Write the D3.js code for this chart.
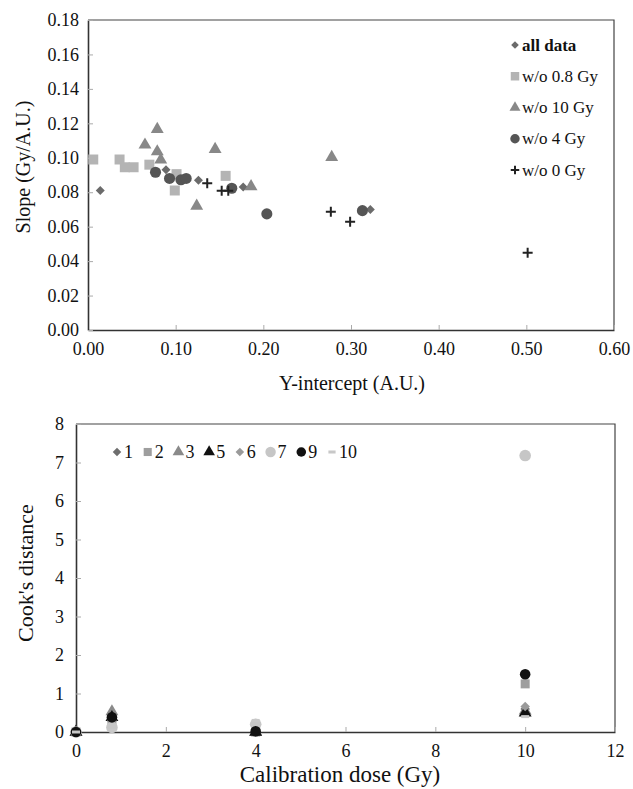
<!DOCTYPE html>
<html>
<head>
<meta charset="utf-8">
<script src="https://cdn.jsdelivr.net/npm/d3@7"></script>
<style>
  body { margin: 0; background: #fff; }
  svg text { font-family: "Liberation Serif", "DejaVu Serif", serif; fill: #111; }
</style>
</head>
<body>
<svg id="chart" width="633" height="789"></svg>
<script>
// ---- top chart: slope vs y-intercept ----
const allData   = [[0.014, 0.081], [0.089, 0.093], [0.126, 0.087], [0.177, 0.083], [0.322, 0.070]];
const wo08Gy    = [[0.006, 0.099], [0.036, 0.099], [0.042, 0.0945], [0.052, 0.0945], [0.070, 0.096],
                   [0.101, 0.0905], [0.099, 0.081], [0.157, 0.0895]];
const wo10Gy    = [[0.079, 0.1166], [0.065, 0.1075], [0.079, 0.1036], [0.083, 0.0988], [0.124, 0.072],
                   [0.145, 0.105], [0.186, 0.0833], [0.278, 0.1003]];
const wo4Gy     = [[0.077, 0.0916], [0.093, 0.088], [0.106, 0.0872], [0.112, 0.0880], [0.164, 0.0823],
                   [0.204, 0.0674], [0.313, 0.0693]];
const wo0Gy     = [[0.136, 0.0852], [0.1525, 0.0808], [0.160, 0.0808], [0.277, 0.0687], [0.299, 0.0629],
                   [0.5015, 0.0449]];
const topLegend = ["all data", "w/o 0.8 Gy", "w/o 10 Gy", "w/o 4 Gy", "w/o 0 Gy"];
const topXTicks = [0, 0.1, 0.2, 0.3, 0.4, 0.5, 0.6];
const topYTicks = [0, 0.02, 0.04, 0.06, 0.08, 0.10, 0.12, 0.14, 0.16, 0.18];

// ---- bottom chart: Cook's distance ----
const doses      = [0, 0.8, 4, 10];
const cookNames  = ["1", "2", "3", "5", "6", "7", "9", "10"];
const cook1  = [0.02, 0.28, 0.0, 0.60];
const cook2  = [0.0, 0.25, 0.0, 1.25];
const cook3  = [0.0, 0.53, 0.0, 0.55];
const cook5  = [0.0, 0.38, 0.0, 0.50];
const cook6  = [0.0, 0.30, 0.0, 0.66];
const cook7  = [0.0, 0.12, 0.20, 7.18];
const cook9  = [0.0, 0.38, 0.02, 1.50];
const cook10 = [0.0, 0.05, 0.30, 0.40];
const botXTicks = [0, 2, 4, 6, 8, 10, 12];
const botYTicks = [0, 1, 2, 3, 4, 5, 6, 7, 8];

const svg = d3.select("#chart");

// marker drawing helper
function marker(g, shape, fill, s) {
  if (shape === "diamond") {
    g.append("path").attr("d", d3.symbol(d3.symbolSquare, s * s * 0.5)())
      .attr("transform", "rotate(45)").attr("fill", fill);
  } else if (shape === "square") {
    g.append("path").attr("d", d3.symbol(d3.symbolSquare, s * s)()).attr("fill", fill);
  } else if (shape === "triangle") {
    g.append("path").attr("d", d3.symbol(d3.symbolTriangle, s * s * 0.5)()).attr("fill", fill);
  } else if (shape === "circle") {
    g.append("path").attr("d", d3.symbol(d3.symbolCircle, s * s * 0.8)()).attr("fill", fill);
  } else if (shape === "plus") {
    const h = s / 2;
    g.append("path").attr("d", `M${-h},0H${h}M0,${-h}V${h}`)
      .attr("stroke", fill).attr("stroke-width", 2).attr("fill", "none");
  } else if (shape === "dash") {
    g.append("rect").attr("x", -s / 2).attr("y", -1.5).attr("width", s).attr("height", 3).attr("fill", fill);
  }
}

function frame(x0, x1, y0, y1) {
  svg.append("path").attr("d", `M${x0},${y0}H${x1}V${y1}`)
    .attr("fill", "none").attr("stroke", "#444").attr("stroke-width", 1.2);
}

function axes(x, y, xTicks, yTicks, xFmt, yFmt, yLabelGap) {
  const [x0, x1] = x.range();
  const [yb, yt] = y.range();
  const gx = svg.append("g").attr("transform", `translate(0,${yb})`)
    .call(d3.axisBottom(x).tickValues(xTicks).tickFormat(xFmt).tickSizeInner(-5).tickSizeOuter(0).tickPadding(12));
  const gy = svg.append("g").attr("transform", `translate(${x0},0)`)
    .call(d3.axisLeft(y).tickValues(yTicks).tickFormat(yFmt).tickSizeInner(-5).tickSizeOuter(0).tickPadding(yLabelGap));
  [gx, gy].forEach(g => {
    g.select(".domain").attr("stroke", "#333").attr("stroke-width", 1.6);
    g.selectAll(".tick line").attr("stroke", "#aaa");
    g.selectAll(".tick text").attr("font-size", 18).attr("fill", "#111")
      .style("font-family", '"Liberation Serif", serif');
  });
  return [gx, gy];
}

// ================= top chart =================
const xT = d3.scaleLinear().domain([0, 0.6]).range([88, 614]);
const yT = d3.scaleLinear().domain([0, 0.18]).range([330, 20]);
frame(88, 614, 20, 330);
axes(xT, yT, topXTicks, topYTicks, d3.format(".2f"), d3.format(".2f"), 9);

const topSeries = [
  { data: allData, shape: "diamond", fill: "#6b6b6b", s: 9 },
  { data: wo08Gy,  shape: "square",  fill: "#b4b4b4", s: 10 },
  { data: wo10Gy,  shape: "triangle", fill: "#888888", s: 12 },
  { data: wo4Gy,   shape: "circle",  fill: "#555555", s: 11 },
  { data: wo0Gy,   shape: "plus",    fill: "#222222", s: 10 }
];
topSeries.forEach(sr => {
  sr.data.forEach(d => {
    const g = svg.append("g").attr("transform", `translate(${xT(d[0])},${yT(d[1])})`);
    marker(g, sr.shape, sr.fill, sr.s);
  });
});

// top legend
const legY = d3.scalePoint().domain(topLegend).range([45, 170]);
topSeries.forEach((sr, i) => {
  const g = svg.append("g").attr("transform", `translate(515,${legY(topLegend[i])})`);
  marker(g, sr.shape, sr.fill, sr.s * 0.85);
  svg.append("text").attr("x", 522).attr("y", legY(topLegend[i]) + 5.5)
    .attr("font-size", 17).attr("font-weight", i === 0 ? "bold" : "normal")
    .text(topLegend[i]);
});

svg.append("text").attr("transform", "translate(30,167) rotate(-90)")
  .attr("text-anchor", "middle").attr("font-size", 20).text("Slope (Gy/A.U.)");
svg.append("text").attr("x", 352).attr("y", 390)
  .attr("text-anchor", "middle").attr("font-size", 20).text("Y-intercept (A.U.)");

// ================= bottom chart =================
const xB = d3.scaleLinear().domain([0, 12]).range([76, 615]);
const yB = d3.scaleLinear().domain([0, 8]).range([732, 424]);
frame(76, 615, 424, 732);
axes(xB, yB, botXTicks, botYTicks, d3.format("d"), d3.format("d"), 12);

const botSeries = [
  { vals: cook1,  shape: "diamond",  fill: "#6e6e6e", s: 9.5 },
  { vals: cook2,  shape: "square",   fill: "#9e9e9e", s: 9 },
  { vals: cook3,  shape: "triangle", fill: "#8a8a8a", s: 12 },
  { vals: cook5,  shape: "triangle", fill: "#111111", s: 12 },
  { vals: cook6,  shape: "diamond",  fill: "#9a9a9a", s: 9.5 },
  { vals: cook7,  shape: "circle",   fill: "#c6c6c6", s: 11.5 },
  { vals: cook9,  shape: "circle",   fill: "#111111", s: 10.5 },
  { vals: cook10, shape: "dash",     fill: "#c8c8c8", s: 8 }
];
botSeries.forEach(sr => {
  sr.vals.forEach((v, j) => {
    const g = svg.append("g").attr("transform", `translate(${xB(doses[j])},${yB(v)})`);
    marker(g, sr.shape, sr.fill, sr.s);
  });
});

// bottom legend
const legX = d3.scalePoint().domain(cookNames).range([117, 332]);
botSeries.forEach((sr, i) => {
  const cx = legX(cookNames[i]);
  const g = svg.append("g").attr("transform", `translate(${cx},452)`);
  marker(g, sr.shape, sr.fill, sr.s * 0.9);
  svg.append("text").attr("x", cx + 7).attr("y", 458)
    .attr("font-size", 18).text(cookNames[i]);
});

svg.append("text").attr("transform", "translate(33,573) rotate(-90)")
  .attr("text-anchor", "middle").attr("font-size", 22).text("Cook's distance");
svg.append("text").attr("x", 340).attr("y", 782)
  .attr("text-anchor", "middle").attr("font-size", 23).text("Calibration dose (Gy)");
</script>
</body>
</html>
